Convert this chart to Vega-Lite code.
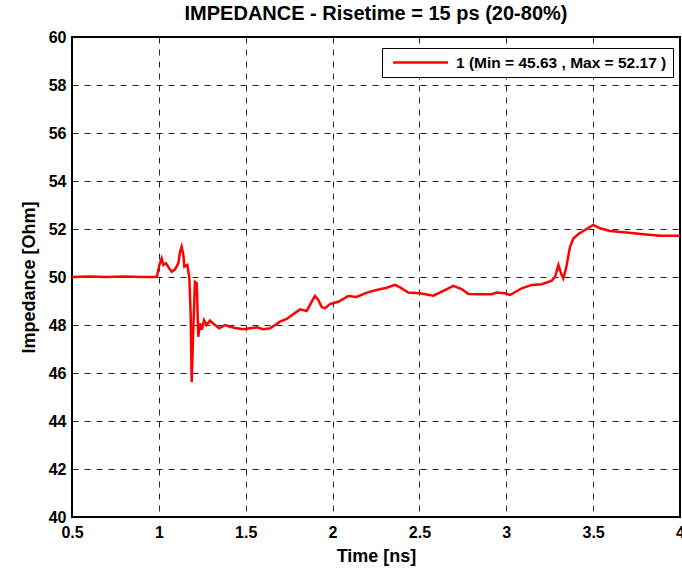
{
  "$schema": "https://vega.github.io/schema/vega-lite/v6.json",
  "width": 608,
  "height": 480,
  "autosize": {"type": "none"},
  "padding": {"left": 72, "top": 37, "right": 2, "bottom": 52},
  "background": "white",
  "title": {
    "text": "IMPEDANCE - Risetime = 15 ps (20-80%)",
    "font": "Liberation Sans",
    "fontSize": 20,
    "fontWeight": "bold",
    "color": "black",
    "anchor": "middle",
    "offset": 5
  },
  "config": {
    "view": {"stroke": "black", "strokeWidth": 2},
    "axis": {
      "labelFont": "Liberation Sans",
      "labelFontSize": 16,
      "labelFontWeight": "bold",
      "labelColor": "black",
      "titleFont": "Liberation Sans",
      "titleFontSize": 18,
      "titleFontWeight": "bold",
      "titleColor": "black",
      "domain": false,
      "ticks": false,
      "grid": true,
      "gridColor": "black",
      "gridDash": [6, 6],
      "gridWidth": 1,
      "gridOpacity": 0.85
    }
  },
  "data": {
    "values": [
      {"t": 0.5, "z": 50.0}, {"t": 0.6, "z": 50.02}, {"t": 0.7, "z": 50.0}, {"t": 0.8, "z": 50.02}, {"t": 0.9, "z": 50.0},
      {"t": 0.988, "z": 50.0}, {"t": 1.003, "z": 50.5}, {"t": 1.016, "z": 50.78}, {"t": 1.026, "z": 50.5}, {"t": 1.041, "z": 50.57},
      {"t": 1.06, "z": 50.36}, {"t": 1.074, "z": 50.22}, {"t": 1.093, "z": 50.32}, {"t": 1.112, "z": 50.57}, {"t": 1.122, "z": 51.05},
      {"t": 1.131, "z": 51.26}, {"t": 1.141, "z": 50.92}, {"t": 1.147, "z": 50.43}, {"t": 1.164, "z": 50.5}, {"t": 1.175, "z": 50.0},
      {"t": 1.183, "z": 48.49}, {"t": 1.189, "z": 45.63}, {"t": 1.198, "z": 47.8}, {"t": 1.208, "z": 49.8}, {"t": 1.218, "z": 49.74},
      {"t": 1.227, "z": 47.51}, {"t": 1.237, "z": 48.07}, {"t": 1.247, "z": 47.8}, {"t": 1.26, "z": 48.2}, {"t": 1.275, "z": 48.0},
      {"t": 1.294, "z": 48.18}, {"t": 1.323, "z": 48.0}, {"t": 1.348, "z": 47.86}, {"t": 1.381, "z": 48.0}, {"t": 1.41, "z": 47.93},
      {"t": 1.448, "z": 47.86}, {"t": 1.486, "z": 47.82}, {"t": 1.525, "z": 47.86}, {"t": 1.563, "z": 47.9}, {"t": 1.601, "z": 47.82},
      {"t": 1.64, "z": 47.86}, {"t": 1.678, "z": 48.04}, {"t": 1.697, "z": 48.14}, {"t": 1.736, "z": 48.25}, {"t": 1.755, "z": 48.35},
      {"t": 1.813, "z": 48.65}, {"t": 1.851, "z": 48.58}, {"t": 1.88, "z": 48.97}, {"t": 1.899, "z": 49.21}, {"t": 1.918, "z": 49.04},
      {"t": 1.938, "z": 48.74}, {"t": 1.957, "z": 48.7}, {"t": 1.985, "z": 48.87}, {"t": 2.033, "z": 48.97}, {"t": 2.091, "z": 49.21},
      {"t": 2.139, "z": 49.17}, {"t": 2.197, "z": 49.35}, {"t": 2.254, "z": 49.46}, {"t": 2.312, "z": 49.55}, {"t": 2.36, "z": 49.67},
      {"t": 2.388, "z": 49.57}, {"t": 2.436, "z": 49.35}, {"t": 2.503, "z": 49.32}, {"t": 2.58, "z": 49.22}, {"t": 2.638, "z": 49.42},
      {"t": 2.695, "z": 49.63}, {"t": 2.743, "z": 49.5}, {"t": 2.782, "z": 49.29}, {"t": 2.849, "z": 49.28}, {"t": 2.916, "z": 49.28},
      {"t": 2.945, "z": 49.35}, {"t": 2.993, "z": 49.32}, {"t": 3.022, "z": 49.25}, {"t": 3.089, "z": 49.53}, {"t": 3.147, "z": 49.67},
      {"t": 3.204, "z": 49.7}, {"t": 3.262, "z": 49.85}, {"t": 3.281, "z": 50.01}, {"t": 3.3, "z": 50.5}, {"t": 3.315, "z": 50.15},
      {"t": 3.328, "z": 49.94}, {"t": 3.344, "z": 50.36}, {"t": 3.367, "z": 51.26}, {"t": 3.386, "z": 51.6}, {"t": 3.415, "z": 51.79},
      {"t": 3.453, "z": 51.96}, {"t": 3.501, "z": 52.17}, {"t": 3.54, "z": 52.03}, {"t": 3.597, "z": 51.92}, {"t": 3.693, "z": 51.85},
      {"t": 3.789, "z": 51.78}, {"t": 3.885, "z": 51.72}, {"t": 4.0, "z": 51.72}
    ]
  },
  "transform": [{"calculate": "'1 (Min = 45.63 , Max = 52.17 )'", "as": "series"}],
  "mark": {"type": "line", "strokeWidth": 2.5, "interpolate": "linear", "clip": true},
  "encoding": {
    "x": {
      "field": "t",
      "type": "quantitative",
      "scale": {"domain": [0.5, 4], "nice": false, "zero": false},
      "axis": {"title": "Time [ns]", "values": [0.5, 1, 1.5, 2, 2.5, 3, 3.5, 4], "format": "~g", "labelPadding": 7, "titlePadding": 7, "labelFlush": false, "labelOverlap": false}
    },
    "y": {
      "field": "z",
      "type": "quantitative",
      "scale": {"domain": [40, 60], "nice": false, "zero": false},
      "axis": {"title": "Impedance [Ohm]", "values": [40, 42, 44, 46, 48, 50, 52, 54, 56, 58, 60], "labelPadding": 6, "titlePadding": 10}
    },
    "color": {
      "field": "series",
      "type": "nominal",
      "scale": {"range": ["#ff0000"]},
      "legend": {
        "title": null,
        "orient": "none",
        "legendX": 310,
        "legendY": 11,
        "symbolType": "M-0.5,0L7.5,0",
        "symbolSize": 189,
        "symbolStrokeWidth": 2.5,
        "symbolFillColor": "transparent",
        "labelOffset": 51,
        "labelFont": "Liberation Sans",
        "labelFontSize": 15.5,
        "labelFontWeight": "bold",
        "labelColor": "black",
        "strokeColor": "black",
        "fillColor": "white",
        "padding": 6,
        "labelLimit": 400
      }
    }
  }
}
